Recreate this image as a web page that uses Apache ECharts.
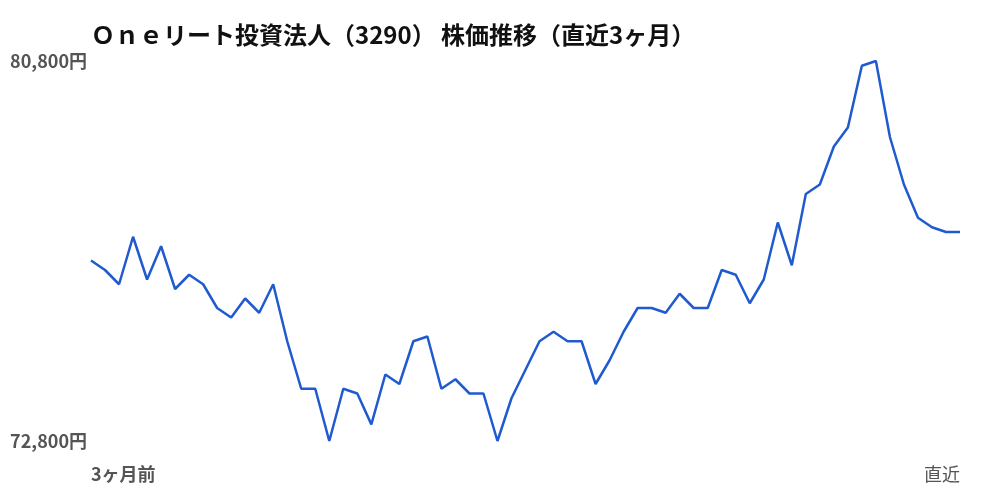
<!DOCTYPE html>
<html>
<head>
<meta charset="utf-8">
<script src="https://cdn.jsdelivr.net/npm/echarts@6/dist/echarts.min.js"></script>
<style>
html, body { margin: 0; padding: 0; background: #fff; }
#main { width: 1000px; height: 500px; }
</style>
</head>
<body>
<div id="main"></div>
<script>
// 直近3ヶ月の終値（円）
const prices = [
  76600, 76400, 76100, 77100, 76200, 76900, 76000, 76300, 76100, 75600,
  75400, 75800, 75500, 76100, 74900, 73900, 73900, 72800, 73900, 73800,
  73150, 74200, 74000, 74900, 75000, 73900, 74100, 73800, 73800, 72800,
  73700, 74300, 74900, 75100, 74900, 74900, 74000, 74500, 75100, 75600,
  75600, 75500, 75900, 75600, 75600, 76400, 76300, 75700, 76200, 77400,
  76500, 78000, 78200, 79000, 79400, 80700, 80800, 79200, 78200, 77500,
  77300, 77200, 77200
]
const days = prices.map((_, i) => String(i + 1))
const startLabel = '3ヶ月前'
const endLabel = '直近'
const yMin = 72800
const yMax = 80800

const myChart = echarts.init(document.getElementById('main'))

myChart.setOption({
  animation: false,
  title: {
    text: 'Ｏｎｅリート投資法人（3290） 株価推移（直近3ヶ月）',
    left: 86,
    top: 18,
    textStyle: {
      fontFamily: 'Noto Sans CJK JP',
      fontSize: 24,
      fontWeight: 'bold',
      color: '#111'
    }
  },
  grid: {
    left: 91,
    right: 40,
    top: 61,
    bottom: 59
  },
  xAxis: {
    type: 'category',
    data: days,
    boundaryGap: false,
    axisLine: { show: false },
    axisTick: { show: false },
    splitLine: { show: false },
    axisLabel: {
      interval: 0,
      margin: 24,
      alignMinLabel: 'left',
      alignMaxLabel: 'right',
      formatter: (v, i) => {
        if (i === 0) return '{a|' + startLabel + '}'
        if (i === prices.length - 1) return '{b|' + endLabel + '}'
        return ''
      },
      rich: {
        a: { fontFamily: 'Noto Sans CJK JP', fontSize: 18, fontWeight: 'bold', color: '#555' },
        b: { fontFamily: 'Noto Sans CJK JP', fontSize: 18, color: '#555' }
      }
    }
  },
  yAxis: {
    type: 'value',
    min: yMin,
    max: yMax,
    interval: yMax - yMin,
    axisLine: { show: false },
    axisTick: { show: false },
    splitLine: { show: false },
    axisLabel: {
      margin: 4,
      fontFamily: 'Noto Sans CJK JP',
      fontSize: 18,
      fontWeight: 'bold',
      color: '#555',
      formatter: v => v.toLocaleString('en-US') + '円'
    }
  },
  series: [{
    type: 'line',
    data: prices,
    showSymbol: false,
    lineStyle: { color: '#1f5bcf', width: 2.5 }
  }]
})
</script>
</body>
</html>
